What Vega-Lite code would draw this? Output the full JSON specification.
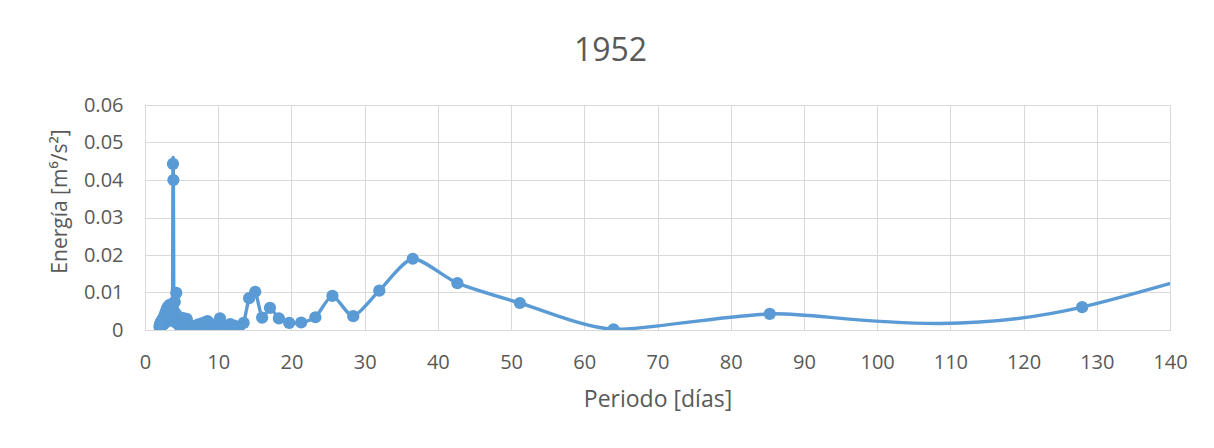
{
  "$schema": "https://vega.github.io/schema/vega-lite/v6.json",
  "width": 1025,
  "height": 225,
  "autosize": "none",
  "padding": {"left": 145, "top": 105, "right": 44, "bottom": 118},
  "background": "white",
  "title": {
    "text": "1952",
    "fontSize": 32,
    "font": "Open Sans",
    "fontWeight": "normal",
    "color": "#595959",
    "anchor": "middle",
    "dx": -47,
    "offset": 27
  },
  "config": {
    "view": {"stroke": null},
    "font": "Open Sans",
    "axis": {
      "gridColor": "#D9D9D9",
      "gridWidth": 1,
      "domainColor": "#D9D9D9",
      "domainWidth": 1,
      "ticks": false,
      "labelFlush": false,
      "labelColor": "#595959",
      "labelFontSize": 20,
      "labelFont": "Open Sans",
      "titleColor": "#595959",
      "titleFont": "Open Sans",
      "titleFontWeight": "normal"
    }
  },
  "data": {
    "values": [
      {"periodo": 256, "energia": 0.0818},
      {"periodo": 128, "energia": 0.0061},
      {"periodo": 85.333, "energia": 0.0043},
      {"periodo": 64, "energia": 0.0002},
      {"periodo": 51.2, "energia": 0.0072},
      {"periodo": 42.667, "energia": 0.0125},
      {"periodo": 36.571, "energia": 0.019},
      {"periodo": 32, "energia": 0.0105},
      {"periodo": 28.444, "energia": 0.0037},
      {"periodo": 25.6, "energia": 0.0091},
      {"periodo": 23.273, "energia": 0.0034},
      {"periodo": 21.333, "energia": 0.002},
      {"periodo": 19.692, "energia": 0.0019},
      {"periodo": 18.286, "energia": 0.0031},
      {"periodo": 17.067, "energia": 0.0059},
      {"periodo": 16, "energia": 0.0033},
      {"periodo": 15.059, "energia": 0.0102},
      {"periodo": 14.222, "energia": 0.0085},
      {"periodo": 13.474, "energia": 0.0019},
      {"periodo": 12.8, "energia": 0.0006},
      {"periodo": 12.19, "energia": 0.0012},
      {"periodo": 11.636, "energia": 0.0016},
      {"periodo": 11.13, "energia": 0.001},
      {"periodo": 10.667, "energia": 0.0012},
      {"periodo": 10.24, "energia": 0.0031},
      {"periodo": 9.846, "energia": 0.0015},
      {"periodo": 9.481, "energia": 0.0004},
      {"periodo": 9.143, "energia": 0.0006},
      {"periodo": 8.828, "energia": 0.0018},
      {"periodo": 8.533, "energia": 0.0024},
      {"periodo": 8.258, "energia": 0.0021},
      {"periodo": 8.0, "energia": 0.0012},
      {"periodo": 7.758, "energia": 0.0018},
      {"periodo": 7.529, "energia": 0.001},
      {"periodo": 7.314, "energia": 0.0015},
      {"periodo": 7.111, "energia": 0.0008},
      {"periodo": 6.919, "energia": 0.0012},
      {"periodo": 6.737, "energia": 0.0005},
      {"periodo": 6.564, "energia": 0.001},
      {"periodo": 6.4, "energia": 0.0006},
      {"periodo": 6.244, "energia": 0.0012},
      {"periodo": 6.095, "energia": 0.0008},
      {"periodo": 5.953, "energia": 0.0012},
      {"periodo": 5.818, "energia": 0.002},
      {"periodo": 5.689, "energia": 0.003},
      {"periodo": 5.565, "energia": 0.0018},
      {"periodo": 5.447, "energia": 0.0027},
      {"periodo": 5.333, "energia": 0.0015},
      {"periodo": 5.224, "energia": 0.0032},
      {"periodo": 5.12, "energia": 0.0022},
      {"periodo": 5.02, "energia": 0.001},
      {"periodo": 4.923, "energia": 0.0018},
      {"periodo": 4.83, "energia": 0.0028},
      {"periodo": 4.741, "energia": 0.0012},
      {"periodo": 4.655, "energia": 0.0024},
      {"periodo": 4.571, "energia": 0.0014},
      {"periodo": 4.491, "energia": 0.0032},
      {"periodo": 4.414, "energia": 0.0018},
      {"periodo": 4.339, "energia": 0.004},
      {"periodo": 4.267, "energia": 0.0099},
      {"periodo": 4.197, "energia": 0.002},
      {"periodo": 4.129, "energia": 0.0045},
      {"periodo": 4.063, "energia": 0.0075},
      {"periodo": 4.0, "energia": 0.003},
      {"periodo": 3.938, "energia": 0.005},
      {"periodo": 3.879, "energia": 0.04},
      {"periodo": 3.821, "energia": 0.0443},
      {"periodo": 3.765, "energia": 0.0055},
      {"periodo": 3.71, "energia": 0.004},
      {"periodo": 3.657, "energia": 0.0025},
      {"periodo": 3.606, "energia": 0.006},
      {"periodo": 3.556, "energia": 0.0045},
      {"periodo": 3.507, "energia": 0.0028},
      {"periodo": 3.459, "energia": 0.0068},
      {"periodo": 3.413, "energia": 0.005},
      {"periodo": 3.368, "energia": 0.003},
      {"periodo": 3.325, "energia": 0.0066},
      {"periodo": 3.282, "energia": 0.0048},
      {"periodo": 3.24, "energia": 0.0031},
      {"periodo": 3.2, "energia": 0.0063},
      {"periodo": 3.16, "energia": 0.0046},
      {"periodo": 3.122, "energia": 0.003},
      {"periodo": 3.084, "energia": 0.006},
      {"periodo": 3.048, "energia": 0.0044},
      {"periodo": 3.012, "energia": 0.0028},
      {"periodo": 2.977, "energia": 0.0056},
      {"periodo": 2.943, "energia": 0.004},
      {"periodo": 2.909, "energia": 0.0025},
      {"periodo": 2.876, "energia": 0.005},
      {"periodo": 2.844, "energia": 0.0036},
      {"periodo": 2.813, "energia": 0.0022},
      {"periodo": 2.783, "energia": 0.0045},
      {"periodo": 2.753, "energia": 0.0032},
      {"periodo": 2.723, "energia": 0.002},
      {"periodo": 2.695, "energia": 0.004},
      {"periodo": 2.667, "energia": 0.0028},
      {"periodo": 2.639, "energia": 0.0018},
      {"periodo": 2.612, "energia": 0.0035},
      {"periodo": 2.586, "energia": 0.0025},
      {"periodo": 2.56, "energia": 0.0016},
      {"periodo": 2.535, "energia": 0.0031},
      {"periodo": 2.51, "energia": 0.0022},
      {"periodo": 2.485, "energia": 0.0016},
      {"periodo": 2.462, "energia": 0.003},
      {"periodo": 2.438, "energia": 0.0021},
      {"periodo": 2.415, "energia": 0.0015},
      {"periodo": 2.393, "energia": 0.0027},
      {"periodo": 2.37, "energia": 0.0019},
      {"periodo": 2.349, "energia": 0.0014},
      {"periodo": 2.327, "energia": 0.0025},
      {"periodo": 2.306, "energia": 0.0017},
      {"periodo": 2.286, "energia": 0.0012},
      {"periodo": 2.265, "energia": 0.0023},
      {"periodo": 2.246, "energia": 0.0016},
      {"periodo": 2.226, "energia": 0.0011},
      {"periodo": 2.207, "energia": 0.0021},
      {"periodo": 2.188, "energia": 0.0015},
      {"periodo": 2.169, "energia": 0.001},
      {"periodo": 2.151, "energia": 0.0019},
      {"periodo": 2.133, "energia": 0.0014},
      {"periodo": 2.116, "energia": 0.0009},
      {"periodo": 2.098, "energia": 0.0017},
      {"periodo": 2.081, "energia": 0.0012},
      {"periodo": 2.065, "energia": 0.0008},
      {"periodo": 2.048, "energia": 0.0015},
      {"periodo": 2.032, "energia": 0.0007},
      {"periodo": 2.016, "energia": 0.0012},
      {"periodo": 2.0, "energia": 0.0008}
    ]
  },
  "encoding": {
    "x": {
      "field": "periodo",
      "type": "quantitative",
      "scale": {"domain": [0, 140], "nice": false},
      "axis": {
        "title": "Periodo [días]",
        "values": [0, 10, 20, 30, 40, 50, 60, 70, 80, 90, 100, 110, 120, 130, 140],
        "labelPadding": 22,
        "titlePadding": 16,
        "titleFontSize": 23
      }
    },
    "y": {
      "field": "energia",
      "type": "quantitative",
      "scale": {"domain": [0, 0.06], "nice": false},
      "axis": {
        "title": "Energía [m⁶/s²]",
        "values": [0, 0.01, 0.02, 0.03, 0.04, 0.05, 0.06],
        "format": ".2~f",
        "labelPadding": 22,
        "titlePadding": 13,
        "titleFontSize": 21,
        "titleY": 96
      }
    }
  },
  "layer": [
    {
      "mark": {"type": "line", "interpolate": "cardinal", "tension": 0.3, "clip": true, "color": "#5B9BD5", "strokeWidth": 3.4}
    },
    {
      "mark": {"type": "circle", "clip": true, "color": "#5B9BD5", "opacity": 1, "size": 150}
    }
  ]
}
